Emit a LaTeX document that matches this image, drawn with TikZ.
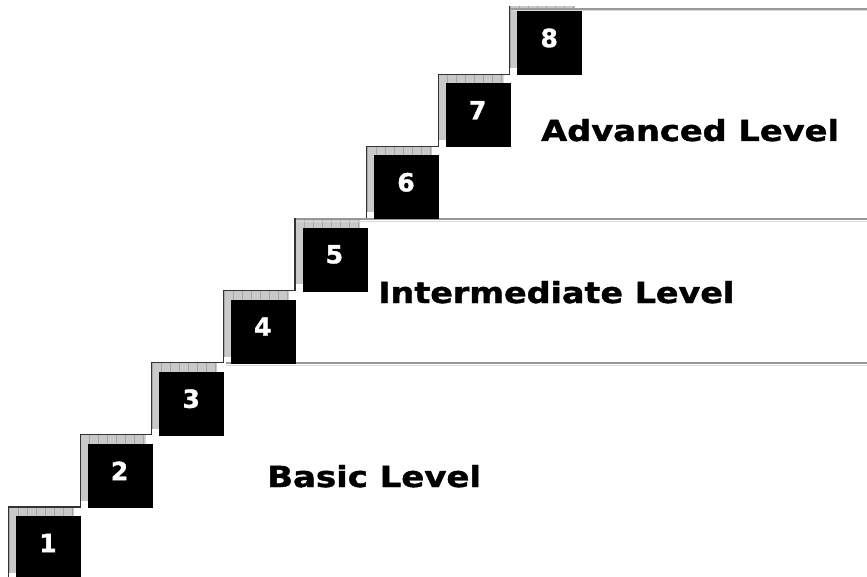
\documentclass[tikz,border=0pt]{standalone}
\usepackage{fontspec}
\usepackage{graphicx}
\newfontfamily\lblfont[BoldFeatures={FakeBold=1.3}]{DejaVu Sans}
\tikzset{
 sqbox/.style={fill=black, draw=none, minimum width=65pt, minimum height=64pt, inner sep=0pt, anchor=north west},
 numtxt/.style={text=white, font=\lblfont\bfseries\fontsize{25}{25}\selectfont, inner sep=0pt},
 lvltxt/.style={font=\lblfont\bfseries\fontsize{29}{29}\selectfont, inner sep=0pt, anchor=base west},
 stairline/.style={draw=black!80, line width=1.2pt},
 levelline/.style={draw=gray!80, line width=2pt},
 levelshade/.style={draw=gray!30, line width=1pt},
 shadowfill/.style={fill=gray!42},
 shadowgrid/.style={draw=gray!70, line width=0.5pt},
}
\begin{document}
\begin{tikzpicture}[x=1pt,y=-1pt]
\useasboundingbox (0,0) rectangle (867,577);
\begin{scope}
\clip (0,7) rectangle (867,577);
% shadows
\foreach \k in {1,...,8}{
  \pgfmathsetmacro{\SX}{16+71.6*(\k-1)}
  \pgfmathsetmacro{\SY}{516-72.14*(\k-1)}
  \begin{scope}[shift={(\SX-7,\SY-9)}]
    \clip (0,0) rectangle (65,66);
    \fill[shadowfill] (0,0) rectangle (65,66);
    \draw[shadowgrid] (0,0) grid[step=9] (65,66);
  \end{scope}
}
% stair outline
\draw[stairline] (8.5,578) \foreach \k [evaluate=\k as \L using 8.5+71.6*(\k-1), evaluate=\k as \T using 507-72.14*(\k-1)] in {1,...,8} { -- (\L,\T) -- (\L+71.6,\T) };
% level lines
\draw[levelshade] (226,365.2) -- (867,365.2);
\draw[levelline] (226,363.4) -- (867,363.4);
\draw[levelshade] (296,221.2) -- (867,221.2);
\draw[levelline] (296,219.4) -- (867,219.4);
\draw[levelshade] (511,10.5) -- (867,10.5);
\draw[levelline] (511,8.7) -- (867,8.7);
% squares and numbers
\foreach \k in {1,...,8}{
  \pgfmathsetmacro{\SX}{16+71.6*(\k-1)}
  \pgfmathsetmacro{\SY}{516-72.14*(\k-1)}
  \node[sqbox] (s\k) at (\SX,\SY) {};
  \node[numtxt] (n\k) at (\SX+32,\SY+27) {\k};
}
\end{scope}
% level labels
\node[lvltxt] (basic) at (267,487) {\scalebox{1.17}[1]{Basic Level}};
\node[lvltxt] (inter) at (378,303) {\scalebox{1.15}[1]{Intermediate Level}};
\node[lvltxt] (adv) at (541,141) {\scalebox{1.16}[1]{Advanced Level}};
\end{tikzpicture}
\end{document}
